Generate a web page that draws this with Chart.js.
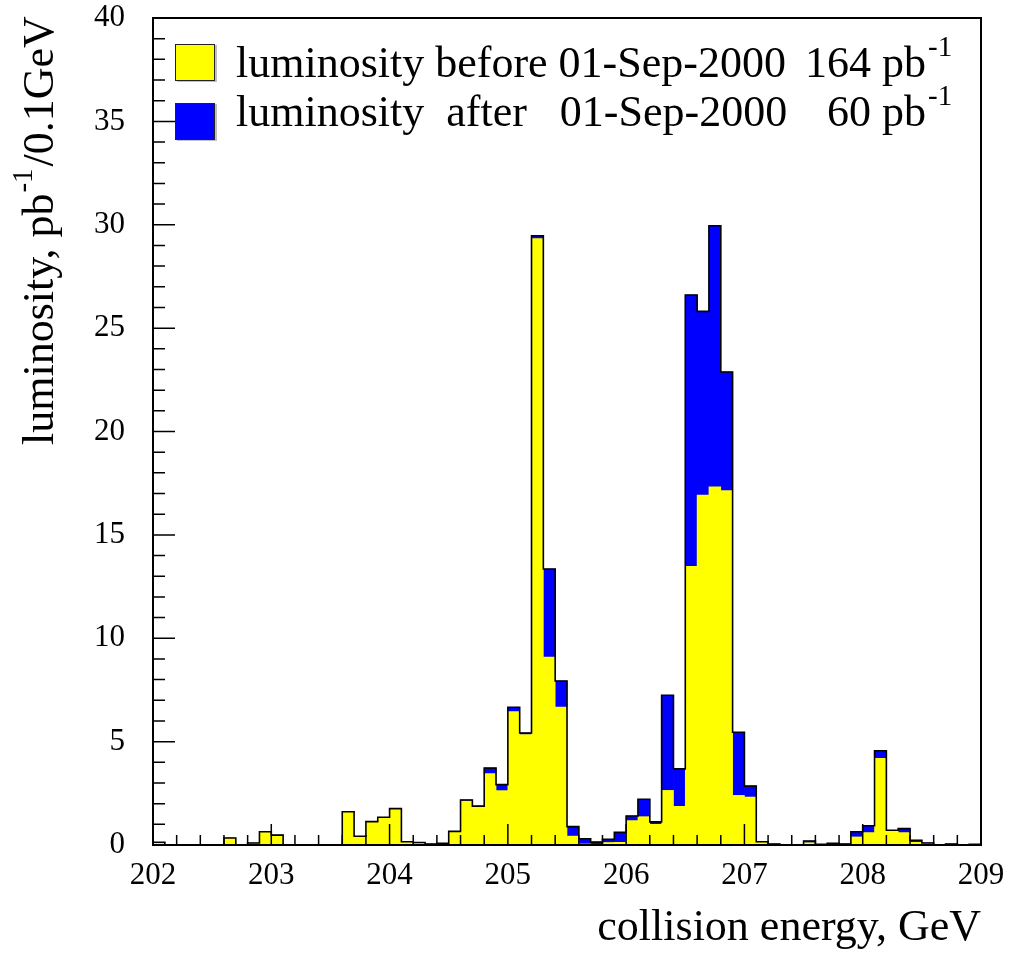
<!DOCTYPE html>
<html>
<head>
<meta charset="utf-8">
<script src="https://cdn.jsdelivr.net/npm/chart.js@4"></script>
<style>
  html, body { margin: 0; padding: 0; background: #fff; }
  canvas { display: block; }
</style>
</head>
<body>
<canvas id="lumi" width="1009" height="958"></canvas>
<script>
// bins of 0.1 GeV from 202.0 to 209.0, value = luminosity in pb^-1 per bin
var binStart = 202.0;
var binWidth = 0.1;
var before = [
  0.13, 0, 0, 0, 0, 0, 0.34, 0, 0.10, 0.64,
  0.48, 0, 0, 0, 0, 0, 1.61, 0.42, 1.13, 1.34,
  1.76, 0.16, 0.12, 0.05, 0.03, 0.66, 2.13, 1.88, 3.45, 2.63,
  6.45, 5.34, 29.33, 9.09, 6.67, 0.43, 0.05, 0.02, 0.12, 0.13,
  1.18, 1.37, 1.00, 2.64, 1.87, 13.48, 16.93, 17.32, 17.14, 2.40,
  2.32, 0.15, 0, 0, 0, 0.11, 0, 0.03, 0, 0.39,
  0.60, 4.19, 0.66, 0.60, 0.13, 0.08, 0, 0.02, 0, 0
];
var after = [
  0, 0, 0, 0, 0, 0, 0, 0, 0, 0,
  0, 0, 0, 0, 0, 0, 0, 0, 0, 0,
  0, 0, 0, 0, 0.05, 0, 0.05, 0, 0.27, 0.29,
  0.21, 0.08, 0.14, 4.26, 1.26, 0.46, 0.25, 0.12, 0.15, 0.48,
  0.22, 0.84, 0.12, 4.60, 1.81, 13.12, 8.88, 12.63, 5.74, 3.05,
  0.53, 0.01, 0.05, 0, 0, 0.08, 0.03, 0.05, 0.05, 0.25,
  0.33, 0.37, 0.05, 0.19, 0.10, 0.02, 0, 0.03, 0, 0.03
];
var legendLines = [
  { color: "#ffff00", text: "luminosity before 01-Sep-2000", total: "164 pb" },
  { color: "#0000ff", text: "luminosity  after   01-Sep-2000", total: "60 pb" }
];
var yTitle = ["luminosity, pb", "-1", "/0.1GeV"];
var xTitle = "collision energy, GeV";

var serif = "'Liberation Serif', 'Times New Roman', serif";

// bars sit at bin centres, outline points on bin edges
var beforePts = before.map(function (v, i) { return { x: binStart + binWidth * (i + 0.5), y: v }; });
var afterPts = after.map(function (v, i) { return { x: binStart + binWidth * (i + 0.5), y: v }; });
var outline = before.map(function (v, i) { return { x: binStart + binWidth * i, y: v + after[i] }; });
outline.push({ x: binStart + binWidth * before.length, y: before[before.length - 1] + after[after.length - 1] });

// ticks inside the frame, drawn over the histogram like ROOT does
var frameTicks = {
  id: "frameTicks",
  afterDatasetsDraw: function (chart) {
    var ctx = chart.ctx, a = chart.chartArea, x = chart.scales.x, y = chart.scales.y;
    ctx.save();
    ctx.strokeStyle = "#000";
    ctx.lineWidth = 1.5;
    ctx.beginPath();
    for (var v = 0; v <= 40; v++) {
      var py = y.getPixelForValue(v);
      var len = v % 5 === 0 ? 22 : 12;
      ctx.moveTo(a.left, py);
      ctx.lineTo(a.left + len, py);
    }
    for (var k = 0; k <= 35; k++) {
      var px = x.getPixelForValue(202 + k * 0.2);
      var l2 = k % 5 === 0 ? 21 : 10;
      ctx.moveTo(px, a.bottom);
      ctx.lineTo(px, a.bottom - l2);
    }
    ctx.stroke();
    ctx.lineWidth = 2;
    ctx.strokeRect(a.left, a.top, a.right - a.left, a.bottom - a.top);
    ctx.restore();
  },
  afterDraw: function (chart) {
    var ctx = chart.ctx;
    ctx.save();
    ctx.fillStyle = "#000";
    ctx.textBaseline = "alphabetic";

    // legend
    legendLines.forEach(function (item, i) {
      var top = 44 + i * 59;
      var base = 77 + i * 49;
      ctx.fillStyle = "rgba(0,0,0,0.25)";
      ctx.fillRect(177, top + 1, 40, 37);
      ctx.fillStyle = item.color;
      ctx.fillRect(175, top, 40, 37);
      ctx.strokeStyle = "#222";
      ctx.lineWidth = 1;
      ctx.strokeRect(175.5, top + 0.5, 39, 36);
      ctx.fillStyle = "#000";
      ctx.font = "44px " + serif;
      ctx.textAlign = "left";
      ctx.fillText(item.text, 236, base);
      ctx.textAlign = "right";
      ctx.fillText(item.total, 926, base);
      ctx.textAlign = "left";
      ctx.font = "29px " + serif;
      ctx.fillText("-1", 928, base - 21);
    });

    // y title, rotated, with superscript
    ctx.translate(53, 445);
    ctx.rotate(-Math.PI / 2);
    ctx.textAlign = "left";
    ctx.font = "44px " + serif;
    ctx.fillText(yTitle[0], 0, 0);
    var w0 = ctx.measureText(yTitle[0]).width;
    ctx.font = "29px " + serif;
    ctx.fillText(yTitle[1], w0 + 1, -21);
    var w1 = ctx.measureText(yTitle[1]).width;
    ctx.font = "44px " + serif;
    ctx.fillText(yTitle[2], w0 + w1 + 3, 0);
    ctx.restore();
  }
};

var chart = new Chart(document.getElementById("lumi"), {
  type: "bar",
  data: {
    datasets: [
      {
        label: "before",
        data: beforePts,
        backgroundColor: "#ffff00",
        borderWidth: 0,
        barPercentage: 1,
        categoryPercentage: 1,
        order: 2
      },
      {
        label: "after",
        data: afterPts,
        backgroundColor: "#0000ff",
        borderWidth: 0,
        barPercentage: 1,
        categoryPercentage: 1,
        order: 2
      },
      {
        type: "line",
        label: "outline",
        data: outline,
        stack: "outline",
        stepped: "before",
        borderColor: "#000",
        borderWidth: 1.6,
        pointRadius: 0,
        fill: false,
        order: 1
      }
    ]
  },
  options: {
    responsive: false,
    animation: false,
    devicePixelRatio: 1,
    layout: { padding: { top: 18, right: 28, left: 0, bottom: 0 } },
    plugins: {
      legend: { display: false },
      tooltip: { enabled: false }
    },
    scales: {
      x: {
        type: "linear",
        stacked: true,
        offset: false,
        min: 202,
        max: 209,
        grid: { display: false, drawTicks: false, offset: false },
        border: { display: false },
        ticks: {
          stepSize: 1,
          padding: 12,
          color: "#000",
          font: { family: serif, size: 31 },
          maxRotation: 0
        },
        title: {
          display: true,
          text: xTitle,
          align: "end",
          color: "#000",
          font: { family: serif, size: 44 },
          padding: { top: 0, bottom: 3 }
        },
        afterFit: function (scale) {
          scale.height = 113;
          scale.paddingLeft = 0;
          scale.paddingRight = 0;
        }
      },
      y: {
        stacked: true,
        min: 0,
        max: 40,
        grid: { display: false, drawTicks: false },
        border: { display: false },
        ticks: {
          stepSize: 5,
          padding: 28,
          color: "#000",
          font: { family: serif, size: 31 }
        },
        afterFit: function (scale) {
          scale.width = 153;
          scale.paddingTop = 0;
          scale.paddingBottom = 0;
        }
      }
    }
  },
  plugins: [frameTicks]
});
</script>
</body>
</html>
